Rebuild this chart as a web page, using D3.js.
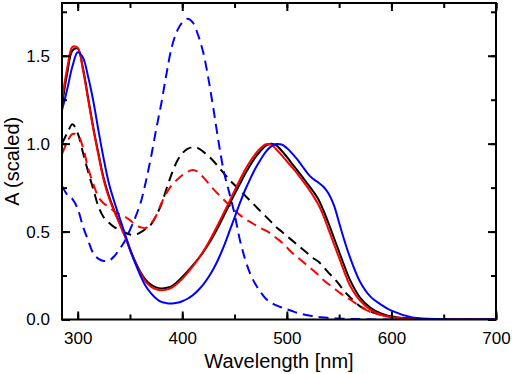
<!DOCTYPE html>
<html><head><meta charset="utf-8">
<script src="https://cdn.jsdelivr.net/npm/d3@7"></script>
<style>body{margin:0;background:#fff}svg{display:block}text{font-family:"Liberation Sans",Arial,sans-serif;fill:#000}</style>
</head><body>
<svg id="c" width="512" height="374"></svg>
<script>
const wavelength = [285,290,295,300,305,310,315,320,325,330,335,340,345,350,355,360,365,370,375,380,385,390,395,400,405,410,415,420,425,430,435,440,445,450,455,460,465,470,475,480,485,490,495,500,505,510,515,520,525,530,535,540,545,550,555,560,570,580,590,600,620,650,700];
const blackSolid = [1.22,1.40,1.53,1.54,1.43,1.26,1.09,0.94,0.80,0.70,0.62,0.55,0.48,0.40,0.33,0.27,0.225,0.198,0.183,0.177,0.18,0.19,0.213,0.242,0.273,0.307,0.343,0.383,0.428,0.478,0.533,0.593,0.653,0.713,0.77,0.827,0.878,0.923,0.96,0.988,1.0,0.99,0.96,0.925,0.885,0.848,0.81,0.77,0.73,0.685,0.62,0.545,0.465,0.385,0.305,0.23,0.125,0.067,0.034,0.016,0.005,0.001,0];
const redSolid = [1.25,1.43,1.55,1.545,1.42,1.25,1.08,0.93,0.79,0.69,0.615,0.545,0.475,0.395,0.325,0.265,0.215,0.187,0.172,0.167,0.17,0.181,0.203,0.232,0.265,0.302,0.342,0.387,0.437,0.492,0.55,0.61,0.67,0.733,0.793,0.85,0.90,0.942,0.975,0.997,0.995,0.967,0.935,0.90,0.865,0.83,0.79,0.75,0.705,0.655,0.59,0.51,0.43,0.35,0.27,0.198,0.107,0.055,0.027,0.013,0.004,0.001,0];
const blueSolid = [1.19,1.31,1.44,1.52,1.49,1.38,1.24,1.07,0.91,0.77,0.67,0.58,0.49,0.40,0.32,0.25,0.19,0.15,0.12,0.10,0.093,0.091,0.095,0.104,0.118,0.138,0.165,0.198,0.24,0.29,0.35,0.42,0.50,0.58,0.66,0.735,0.80,0.86,0.91,0.955,0.985,0.998,0.995,0.975,0.945,0.91,0.87,0.83,0.80,0.78,0.755,0.715,0.65,0.55,0.45,0.36,0.215,0.13,0.085,0.05,0.012,0.002,0];
const blackDashed = [1.0,1.06,1.11,1.06,0.95,0.84,0.74,0.64,0.58,0.55,0.525,0.51,0.495,0.483,0.482,0.495,0.515,0.54,0.59,0.655,0.745,0.83,0.90,0.945,0.97,0.98,0.975,0.955,0.93,0.90,0.865,0.83,0.795,0.765,0.735,0.705,0.675,0.645,0.615,0.585,0.555,0.525,0.50,0.475,0.45,0.425,0.40,0.375,0.35,0.33,0.30,0.265,0.235,0.20,0.16,0.13,0.075,0.045,0.028,0.017,0.006,0.001,0];
const redDashed = [0.94,1.01,1.055,1.05,0.98,0.86,0.77,0.695,0.66,0.64,0.615,0.598,0.585,0.565,0.54,0.525,0.52,0.545,0.59,0.66,0.72,0.765,0.795,0.82,0.84,0.85,0.84,0.81,0.775,0.74,0.71,0.68,0.65,0.62,0.595,0.572,0.555,0.537,0.52,0.505,0.487,0.463,0.44,0.41,0.38,0.355,0.33,0.305,0.28,0.255,0.225,0.20,0.178,0.155,0.133,0.115,0.075,0.042,0.026,0.015,0.006,0.001,0];
const blueDashed = [0.76,0.71,0.685,0.63,0.53,0.45,0.376,0.345,0.333,0.335,0.36,0.40,0.445,0.51,0.58,0.66,0.78,0.92,1.08,1.23,1.40,1.55,1.64,1.69,1.71,1.69,1.62,1.52,1.37,1.19,1.0,0.835,0.72,0.60,0.455,0.345,0.26,0.20,0.155,0.118,0.095,0.08,0.068,0.058,0.048,0.038,0.03,0.024,0.019,0.015,0.012,0.009,0.007,0.005,0.004,0.003,0.002,0.001,0,0,0,0,0];
const xTicks = [300,400,500,600,700];
const yTicks = [0.0,0.5,1.0,1.5];

const series = [
  {v: blackDashed, color: "#000000", dash: "10,6"},
  {v: redDashed, color: "#ff0000", dash: "10,6"},
  {v: blueDashed, color: "#0000ff", dash: "10,6"},
  {v: blackSolid, color: "#000000", dash: null},
  {v: redSolid, color: "#ff0000", dash: null},
  {v: blueSolid, color: "#0000ff", dash: null}
];

const L = 62, R = 496, T = 3, B = 319.5;
const svg = d3.select("#c");
const x = d3.scaleLinear().domain([285, 700]).range([L, R]);
const y = d3.scaleLinear().domain([0, 1.8]).range([B, T]);

svg.append("clipPath").attr("id","clip").append("rect")
  .attr("x", L).attr("y", T).attr("width", R - L).attr("height", B - T);

const line = d3.line().x((d, i) => x(wavelength[i])).y(d => y(d)).curve(d3.curveCatmullRom.alpha(0.5));
const g = svg.append("g").attr("clip-path", "url(#clip)");
series.forEach(s => {
  g.append("path").attr("d", line(s.v)).attr("fill", "none")
    .attr("stroke", s.color).attr("stroke-width", 2)
    .attr("stroke-dasharray", s.dash);
});

const xMinor = d3.range(300, 701, 50);
const yMinor = d3.range(0, 1.76, 0.25);
const axB = d3.axisBottom(x).tickValues(xTicks).tickFormat(d3.format("d")).tickSize(-8).tickPadding(12);
const axBm = d3.axisBottom(x).tickValues(xMinor).tickFormat("").tickSize(-5);
const axT = d3.axisTop(x).tickValues(xTicks).tickFormat("").tickSize(-8);
const axTm = d3.axisTop(x).tickValues(xMinor).tickFormat("").tickSize(-5);
const axL = d3.axisLeft(y).tickValues(yTicks).tickFormat(d3.format(".1f")).tickSize(-8).tickPadding(12);
const axLm = d3.axisLeft(y).tickValues(yMinor).tickFormat("").tickSize(-5);
const axR = d3.axisRight(y).tickValues(yTicks).tickFormat("").tickSize(-8);
const axRm = d3.axisRight(y).tickValues(yMinor).tickFormat("").tickSize(-5);

function put(ax, tr) {
  const a = svg.append("g").attr("transform", tr).call(ax);
  a.select(".domain").remove();
  a.selectAll("line").attr("stroke", "#000").attr("stroke-width", 2);
  a.selectAll("text").attr("font-size", 17).attr("font-family", "'Liberation Sans',Arial,sans-serif").attr("fill", "#000");
  return a;
}
put(axBm, `translate(0,${B})`);
put(axB, `translate(0,${B})`);
put(axTm, `translate(0,${T})`);
put(axT, `translate(0,${T})`);
put(axLm, `translate(${L},0)`);
put(axL, `translate(${L},0)`);
put(axRm, `translate(${R},0)`);
put(axR, `translate(${R},0)`);

svg.append("rect").attr("x", L).attr("y", T).attr("width", R - L).attr("height", B - T)
  .attr("fill", "none").attr("stroke", "#000").attr("stroke-width", 2);

svg.append("text").attr("x", (L + R) / 2).attr("y", 368).attr("text-anchor", "middle")
  .attr("font-size", 20).text("Wavelength [nm]");
svg.append("text").attr("transform", `translate(19,${(T + B) / 2}) rotate(-90)`)
  .attr("text-anchor", "middle").attr("font-size", 20).text("A (scaled)");
</script>
</body></html>
